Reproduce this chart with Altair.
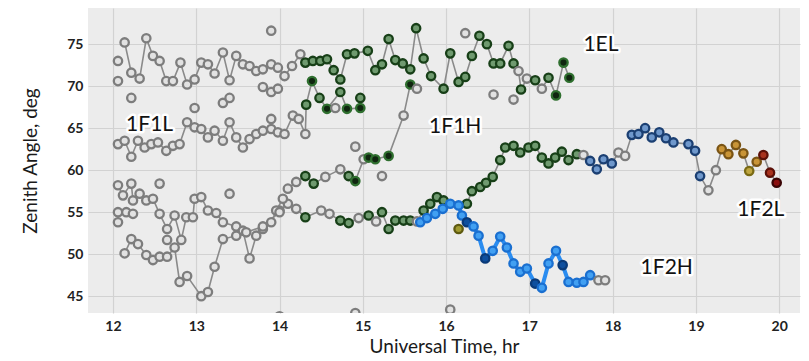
import altair as alt
import pandas as pd

# ---------------- data ----------------
EL_t = [12.14,12.22,12.32,12.40,12.48,12.56,12.64,12.72,12.81,12.89,12.98,13.06,13.14,13.22,13.32,13.40,13.48,13.56,13.64,13.72,13.80,13.90,13.98,14.06,14.15,14.25,
        14.31,14.40,14.49,14.57,14.65,14.73,14.81,14.90,15.06,15.15,15.23,15.31,15.39,15.48,15.57,15.64,15.73,15.82,15.97,16.05,16.15,16.23,16.31,16.40,16.49,16.57,16.65,16.75,16.81,16.87,16.90,16.97,17.07,17.15,17.23,17.32,17.41,17.48]
EL_z = [75.2,71.6,70.9,75.7,73.6,73.0,70.6,70.6,72.8,70.2,70.8,72.8,72.6,71.5,74.0,70.7,73.6,72.6,72.4,71.8,72.0,72.6,72.2,71.2,72.4,73.8,
        72.8,73.0,73.0,73.2,71.9,70.8,73.8,73.9,74.2,71.9,72.6,75.6,73.1,72.7,72.0,76.9,73.3,71.2,69.7,73.9,70.5,71.1,73.6,76.0,75.0,72.7,72.7,74.8,72.7,71.8,69.6,70.9,70.7,69.7,71.0,68.9,72.8,71.0]
EL_s = "g" * 26 + "G" * 29 + "gGg" + "GgGKKK"

F1L_t = [12.06,12.14,12.22,12.30,12.38,12.46,12.54,12.64,12.72,12.80,12.89,12.98,13.06,13.14,13.22,13.32,13.40,13.48,13.56,13.64,13.72,13.80,13.90,13.98,14.06,14.16,14.23,14.31,
         14.32,14.39,14.48,14.57,14.73,14.81,14.97,14.97]
F1L_z = [63.1,63.5,61.6,63.5,62.7,63.1,63.3,62.3,62.9,63.1,65.7,65.1,64.9,63.9,64.7,63.5,65.7,63.9,62.7,63.7,64.3,64.7,64.9,64.5,64.3,66.5,66.1,64.3,
         67.8,70.6,68.6,67.3,69.3,67.3,67.4,68.6]
F1L_s = "g" * 28 + "GKGKGKKG"

F1H_t = [14.10,14.20,14.31,14.41,14.55,14.73,14.83,14.91,15.01,15.07,15.15,15.31,15.49,15.57,15.65]
F1H_z = [57.8,58.6,59.3,58.4,59.2,60.1,59.3,58.7,61.3,61.5,61.3,61.7,66.5,70.2,69.7]
F1H_s = "ggGGggGKgKKKgKg"

MID_t = [14.00,14.10,14.20,14.31,14.50,14.60,14.73,14.83,14.95,15.07,
         15.16,15.23,15.31,15.39,15.49,15.57,15.65,15.73,15.81,15.89,
         15.97,16.25,16.31,16.41,16.48,16.56,16.65,16.71,16.81,16.89,
         16.99,17.07,17.15,17.23,17.31,17.39,17.47,17.57,17.65,17.73,
         17.81,17.89,17.99,18.07,18.15,18.23,18.31,18.39,18.47,18.56,
         18.64,18.73,18.91,18.99,19.05,19.15,19.24,19.31,19.39,
         19.48,19.57,19.64,19.73,19.81,19.89,19.97]
MID_z = [55.2,56.0,55.4,54.4,55.2,54.8,54.0,53.7,54.3,54.6,
         53.9,55.0,53.0,54.0,54.0,54.0,53.9,55.2,56.0,56.8,
         56.4,56.0,57.5,58.0,58.5,59.2,61.2,62.7,62.9,62.1,
         62.7,62.9,61.5,60.8,61.5,62.2,61.2,61.9,61.8,61.1,
         60.1,61.3,60.8,62.1,61.7,64.2,64.3,65.0,63.9,64.5,
         63.8,63.3,63.1,62.3,59.3,57.6,60.0,62.5,61.9,
         63.0,62.0,59.9,61.0,61.8,59.7,58.5]
MID_s = "gggGggGGgG" + "gGGGGGgGGG" + "GGGGGGGGGG" + "GGGGGGGGgB" + "BBBggBBBBB" + "BBBBBggOO" + "OOYORRM"

F2H_t = [15.69,15.77,15.87,15.96,16.05,16.15,16.19,16.25,16.33,16.39,
         16.47,16.56,16.65,16.73,16.81,16.89,16.97,17.07,17.15,17.23,
         17.32,17.40,17.47,17.57,17.65,17.73,17.83,17.91]
F2H_z = [53.8,54.3,54.8,55.4,56.0,55.8,54.6,53.8,53.3,52.2,
         49.5,50.4,52.1,50.8,48.9,47.9,48.3,46.5,46.0,48.9,
         50.4,48.7,46.7,46.6,46.7,47.5,46.9,46.9]
F2H_s = "LLLLLLLDLL" + "DLLLLLLDLL" + "LDLLLLgg"

G3_t = [12.06,12.12,12.22,12.24,12.32,12.40,12.48,12.56,12.65,12.74,12.82,12.88,12.96,12.98,13.06,13.14,13.24,13.32,13.48,13.56,13.64,13.72,13.80,13.90,13.96,14.04]
G3_z = [58.2,57.0,58.4,56.4,57.2,56.4,56.6,54.8,53.0,54.6,51.7,54.4,54.4,56.6,56.8,55.2,54.9,53.8,53.3,52.8,49.5,52.2,53.0,53.8,55.2,56.6]

G4_t = [12.14,12.22,12.30,12.40,12.48,12.56,12.65,12.74,12.80,12.89,13.06,13.14,13.22,13.32,13.48,13.60,13.80,14.00]
G4_z = [50.1,51.8,51.2,49.9,49.3,49.7,49.7,50.8,46.7,47.4,45.0,45.5,48.5,51.8,52.2,52.6,53.3,55.0]

G5_t = [12.06,12.06,12.16,12.24]
G5_z = [53.8,55.0,55.0,54.8]

ISO_t = [12.06,12.06,12.22,12.98,13.32,13.40,13.90,13.80,13.90,13.98,13.90,12.56,13.40,12.65,14.67,14.91,15.23,16.23,16.57,16.81,14.00,14.91,16.05,16.15]
ISO_z = [73.0,70.6,68.6,67.4,68.0,68.6,66.1,69.9,69.3,69.7,76.6,58.4,57.2,51.7,67.4,62.8,59.3,76.3,69.0,68.4,42.6,43.0,43.4,53.0]
ISO_s = "g" * 23 + "V"

LABELS = ["1F1L", "1F1H", "1EL", "1F2L", "1F2H"]
LABEL_T = [12.44, 16.11, 17.86, 19.78, 18.65]
LABEL_Z = [65.4, 65.15, 74.9, 55.2, 48.4]

X_TICKS = [12, 13, 14, 15, 16, 17, 18, 19, 20]
Y_TICKS = [45, 50, 55, 60, 65, 70, 75]

# ---------------- styling ----------------
FILL = {"g": "#e2e2e2", "G": "#6f9a6f", "K": "#102610", "B": "#6f98cc", "L": "#42a0f2",
        "D": "#0e4f9e", "O": "#c99436", "Y": "#bfa640", "R": "#a8321e", "M": "#8a0e0e", "V": "#a09a30"}
STROKE = {"g": "#7d7d7d", "G": "#173f17", "K": "#2f6f2f", "B": "#1b3f72", "L": "#1a6fd0",
          "D": "#0a3a78", "O": "#7a5414", "Y": "#7a6a14", "R": "#5c1008", "M": "#3a0404", "V": "#5e5a10"}

traces = [("EL", EL_t, EL_z, EL_s), ("F1L", F1L_t, F1L_z, F1L_s), ("F1H", F1H_t, F1H_z, F1H_s),
          ("MID", MID_t, MID_z, MID_s), ("G3", G3_t, G3_z, "g" * len(G3_t)),
          ("G4", G4_t, G4_z, "g" * len(G4_t)), ("G5", G5_t, G5_z, "g" * len(G5_t)),
          ("F2H", F2H_t, F2H_z, F2H_s), ("ISO", ISO_t, ISO_z, ISO_s)]

rows = []
for name, ts, zs, ss in traces:
    for i, (t, z, s) in enumerate(zip(ts, zs, ss)):
        rows.append({"trace": name, "i": i, "t": t, "z": z,
                     "fill": FILL[s], "stroke": STROKE[s],
                     "lc": "#2a8cf0" if name == "F2H" else "#8a8a8a",
                     "lw": 4.0 if name == "F2H" else 1.6})
df = pd.DataFrame(rows)
line_df = df[df["trace"] != "ISO"]
lab_df = pd.DataFrame({"label": LABELS, "t": LABEL_T, "z": LABEL_Z})

xs = alt.Scale(domain=[11.7, 20.25], nice=False, zero=False)
ys = alt.Scale(domain=[43.0, 79.3], nice=False, zero=False)
X = alt.X("t:Q", scale=xs, title="Universal Time, hr",
          axis=alt.Axis(values=X_TICKS, format="d", labelPadding=6, titlePadding=4))
Y = alt.Y("z:Q", scale=ys, title="Zenith Angle, deg",
          axis=alt.Axis(values=Y_TICKS, format="d", labelPadding=5, titlePadding=26))

lines = alt.Chart(line_df).mark_line(clip=True).encode(
    x=X, y=Y, detail="trace:N", order="i:Q",
    color=alt.Color("lc:N", scale=None),
    strokeWidth=alt.StrokeWidth("lw:Q", scale=None))

points = alt.Chart(df).mark_point(shape="circle", filled=True, size=70, strokeWidth=2.3,
                                  opacity=1, fillOpacity=1, clip=True).encode(
    x="t:Q", y="z:Q",
    fill=alt.Fill("fill:N", scale=None),
    stroke=alt.Stroke("stroke:N", scale=None))

halo = alt.Chart(lab_df).mark_text(fontSize=21, font="Lato", stroke="white", strokeWidth=5,
                                   color="white", strokeJoin="round").encode(
    x="t:Q", y="z:Q", text="label:N")
labels = alt.Chart(lab_df).mark_text(fontSize=21, font="Lato", color="#111111").encode(
    x="t:Q", y="z:Q", text="label:N")

chart = alt.layer(lines, points, halo, labels).properties(
    width=712, height=305,
    autosize=alt.AutoSizeParams(type="none"),
    padding={"left": 80, "top": 0, "right": 1, "bottom": 46},
    background="white",
).configure_view(fill="#ececec", stroke=None).configure_axis(
    grid=True, gridColor="#d2d2d2", gridWidth=1.2, domain=False, ticks=False,
    labelFont="Lato", labelFontSize=14, labelFontWeight="bold", labelColor="#222222",
    titleFont="Lato", titleFontSize=19, titleFontWeight="normal", titleColor="#1a1a1a")

chart.save("out.html", embed_options={"renderer": "svg", "actions": False})
